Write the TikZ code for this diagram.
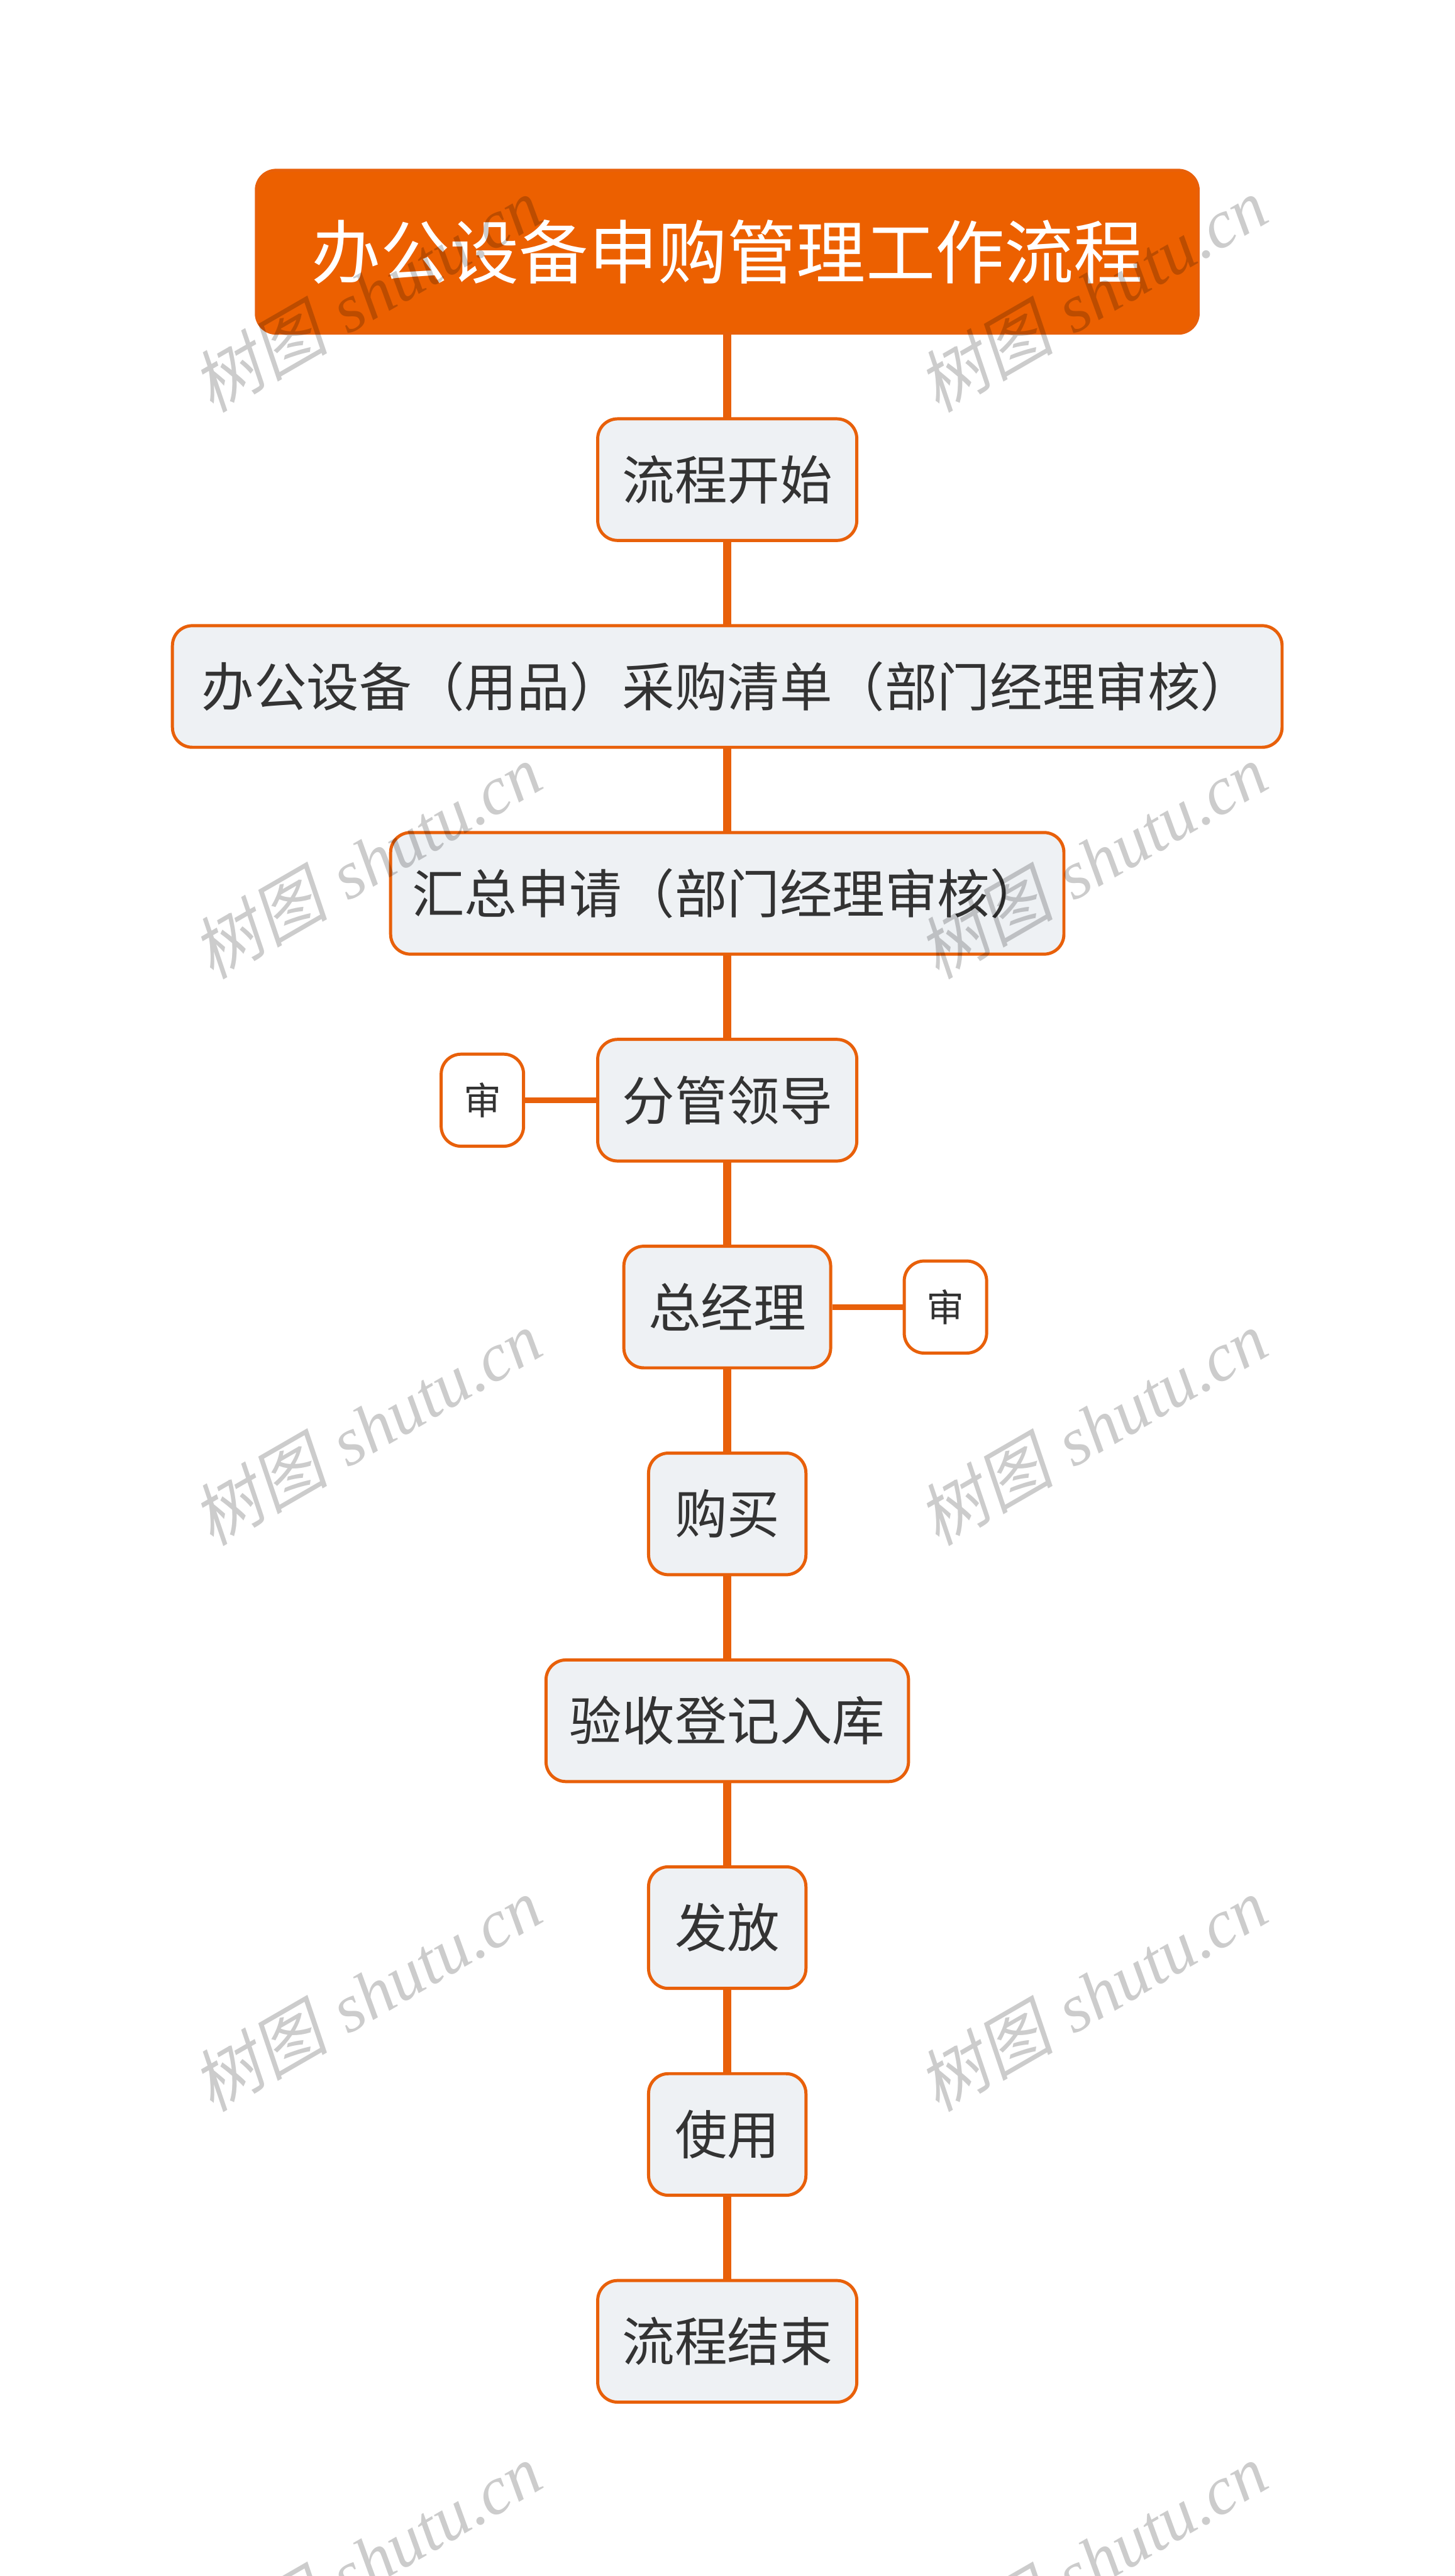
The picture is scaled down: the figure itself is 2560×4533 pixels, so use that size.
\documentclass[tikz,border=0pt]{standalone}
\usepackage{fontspec}
\newfontfamily\cjk{Noto Sans CJK SC}
\newfontfamily\wmcjk[FakeSlant=0.2]{Noto Sans CJK SC}
\newfontfamily\wmlat{Liberation Serif}
\definecolor{titleO}{HTML}{EC6000}
\definecolor{lineO}{HTML}{E8600A}
\definecolor{nodeF}{HTML}{EEF1F4}
\definecolor{txt}{HTML}{333333}
\tikzset{
  box/.style={draw=lineO, line width=1.1pt, fill=nodeF, rounded corners=7pt,
    minimum height=42.8pt, inner sep=0pt, text=txt,
    font=\cjk\fontsize{18.5}{18.5}\selectfont},
  titlebox/.style={draw=lineO, line width=1pt, fill=titleO, rounded corners=7pt,
    minimum width=331.6pt, minimum height=57.4pt, inner sep=0pt, text=white,
    font=\cjk\fontsize{24.4}{24.4}\selectfont},
  smallbox/.style={draw=lineO, line width=1.1pt, fill=white, rounded corners=7pt,
    minimum width=29pt, minimum height=32.4pt, inner sep=0pt, text=txt,
    font=\cjk\fontsize{13.3}{13.3}\selectfont},
  conn/.style={draw=lineO, line width=2.8pt},
  sideconn/.style={draw=lineO, line width=2pt},
  wm/.style={rotate=30, text=black, text opacity=0.2, inner sep=0pt,
    font=\fontsize{24}{24}\selectfont}
}
\begin{document}
\begin{tikzpicture}[x=0.2pt,y=-0.2pt]
\useasboundingbox (0,0) rectangle (2560,4533);
\fill[white] (0,0) rectangle (2560,4533);

% connectors (drawn first, nodes cover their ends)
\coordinate (c0) at (1280,443);
\coordinate (c10) at (1280,4120);
\draw[conn] (c0) -- (c10);

\node[titlebox] (t) at (1280,443) {办公设备申购管理工作流程};
\node[box, minimum width=91.2pt] (n1) at (1280,844) {流程开始};
\node[box, minimum width=390.6pt] (n2) at (1280,1208) {办公设备（用品）采购清单（部门经理审核）};
\node[box, minimum width=237pt] (n3) at (1280,1572) {汇总申请（部门经理审核）};
\node[box, minimum width=91.2pt] (n4) at (1280,1936) {分管领导};
\node[box, minimum width=72.8pt] (n5) at (1280,2300) {总经理};
\node[box, minimum width=55.4pt] (n6) at (1280,2664) {购买};
\node[box, minimum width=127.6pt] (n7) at (1280,3028) {验收登记入库};
\node[box, minimum width=55.4pt] (n8) at (1280,3392) {发放};
\node[box, minimum width=55.4pt] (n9) at (1280,3756) {使用};
\node[box, minimum width=91.2pt] (n10) at (1280,4120) {流程结束};

\node[smallbox] (s1) at (849,1936) {审};
\node[smallbox] (s2) at (1664,2300) {审};
\draw[sideconn] (s1.east) -- (n4.west);
\draw[sideconn] (n5.east) -- (s2.west);

% watermarks
\foreach \y [count=\i] in {518,1515,2512,3509,4506}{
  \node[wm] (wl\i) at (645,\y) {{\wmcjk 树图} {\wmlat\itshape shutu.cn}};
  \node[wm] (wr\i) at (1922,\y) {{\wmcjk 树图} {\wmlat\itshape shutu.cn}};
}
\end{tikzpicture}
\end{document}
